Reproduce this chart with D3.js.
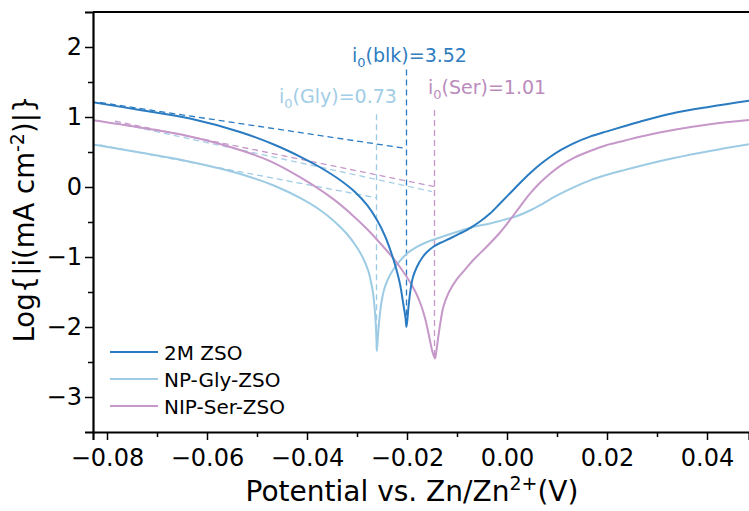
<!DOCTYPE html>
<html>
<head>
<meta charset="utf-8">
<script src="https://cdn.jsdelivr.net/npm/d3@7"></script>
<style>
  body { margin: 0; background: #fff; }
  text { font-family: "DejaVu Sans", sans-serif; }
</style>
</head>
<body>
<div id="chart"></div>
<script>
// Data: potential (V) and log|i|
var blkX = [-0.0828, -0.0734, -0.0634, -0.0534, -0.0464, -0.0414, -0.0374, -0.0334, -0.0304, -0.0280, -0.0260, -0.0244, -0.0232, -0.0222, -0.0214, -0.0208, -0.0203, -0.0201,
            -0.0197, -0.0193, -0.0188, -0.0180, -0.0170, -0.0160, -0.0148, -0.0134, -0.0114, -0.0094, -0.0074, -0.0054, -0.0034, -0.0014, 0.0006, 0.0026, 0.0046, 0.0066, 0.0086, 0.0108, 0.0132, 0.0166, 0.0200, 0.0236, 0.0266, 0.0332, 0.0406, 0.0484];
var blkY = [1.210, 1.100, 0.980, 0.786, 0.600, 0.435, 0.282, 0.100, -0.071, -0.257, -0.471, -0.700, -0.929, -1.157, -1.386, -1.643, -1.871, -2.000,
            -1.714, -1.471, -1.286, -1.139, -1.014, -0.929, -0.857, -0.800, -0.736, -0.664, -0.586, -0.493, -0.379, -0.236, -0.090, 0.057, 0.196, 0.321, 0.429, 0.529, 0.621, 0.720, 0.795, 0.871, 0.933, 1.053, 1.147, 1.233];

var glyX = [-0.0828, -0.0734, -0.0634, -0.0574, -0.0514, -0.0464, -0.0414, -0.0374, -0.0344, -0.0320, -0.0302, -0.0288, -0.0278, -0.0272, -0.0268, -0.02644, -0.02624, -0.0261, -0.02602,
            -0.0258, -0.0255, -0.0251, -0.0246, -0.0238, -0.0228, -0.0216, -0.0201, -0.0182, -0.0160, -0.0134, -0.0104, -0.0068, -0.0034, -0.0004, 0.0020, 0.0046, 0.0072, 0.0102, 0.0132, 0.0166, 0.0200, 0.0236, 0.0266, 0.0332, 0.0406, 0.0484];
var glyY = [0.607, 0.493, 0.361, 0.264, 0.143, 0.014, -0.157, -0.329, -0.500, -0.671, -0.843, -1.014, -1.186, -1.357, -1.514, -1.757, -1.971, -2.186, -2.343,
            -2.114, -1.871, -1.643, -1.471, -1.314, -1.186, -1.071, -0.957, -0.864, -0.786, -0.721, -0.650, -0.571, -0.521, -0.464, -0.414, -0.336, -0.236, -0.114, -0.008, 0.095, 0.175, 0.245, 0.300, 0.410, 0.514, 0.610];

var serX = [-0.0828, -0.0734, -0.0634, -0.0534, -0.0474, -0.0414, -0.0348, -0.0314, -0.0280, -0.0254, -0.0228, -0.0210, -0.0194, -0.0182, -0.0172, -0.0164, -0.0158, -0.0153, -0.0149, -0.0144,
            -0.0141, -0.01374, -0.0133, -0.01274, -0.0116, -0.01006, -0.0084, -0.00674, -0.00406, -0.0014, 0.0006, 0.0026, 0.0046, 0.0066, 0.0086, 0.0108, 0.0132, 0.0166, 0.0200, 0.0236, 0.0266, 0.0332, 0.0406, 0.0484];
var serY = [0.954, 0.850, 0.721, 0.529, 0.370, 0.140, -0.170, -0.371, -0.600, -0.800, -1.014, -1.186, -1.357, -1.514, -1.686, -1.871, -2.057, -2.229, -2.357, -2.450,
            -2.329, -2.139, -1.929, -1.714, -1.500, -1.320, -1.180, -1.043, -0.853, -0.650, -0.471, -0.279, -0.095, 0.060, 0.190, 0.310, 0.410, 0.514, 0.600, 0.664, 0.719, 0.814, 0.896, 0.957];

var seriesNames = ["2M ZSO", "NP-Gly-ZSO", "NIP-Ser-ZSO"];
var seriesColors = ["#2a7bc1", "#9dcbe4", "#c697c9"];

// Tafel fit lines [x0, y0, x1, y1]
var tafelBlk = [-0.0814, 1.207, -0.0201, 0.55];
var tafelGly = [-0.0814, 0.60, -0.0261, -0.155];
var tafelSer = [-0.0784, 0.94, -0.0145, 0.005];
var tafelSer2 = [-0.0784, 0.92, -0.0150, -0.065];

// corrosion potentials and vertical extent [x, yTop, yBottom]
var vBlk = [-0.0201, 1.68, -2.0];
var vGly = [-0.0261, 1.04, -2.35];
var vSer = [-0.0145, 1.10, -2.47];

var xTicks = [-0.08, -0.06, -0.04, -0.02, 0.00, 0.02, 0.04];
var xMinor = [-0.07, -0.05, -0.03, -0.01, 0.01, 0.03];
var yTicks = [-3, -2, -1, 0, 1, 2];
var yMinor = [-2.5, -1.5, -0.5, 0.5, 1.5];

// Variables
var chart_width = 749;
var chart_height = 511;
var pLeft = 93, pTop = 12, pRight = 749, pBottom = 432;

var svg = d3.select("#chart")
  .append("svg")
  .attr("width", chart_width)
  .attr("height", chart_height);

var x_scale = d3.scaleLinear().domain([-0.0828, 0.0484]).range([pLeft, pRight]);
var y_scale = d3.scaleLinear().domain([-3.5, 2.5]).range([pBottom, pTop]);

svg.append("clipPath").attr("id", "clip")
  .append("rect")
  .attr("x", pLeft).attr("y", pTop)
  .attr("width", pRight - pLeft).attr("height", pBottom - pTop);

var plot = svg.append("g").attr("clip-path", "url(#clip)");

// Dashed Tafel lines
function dashLine(seg, color) {
  plot.append("line")
    .attr("x1", x_scale(seg[0])).attr("y1", y_scale(seg[1]))
    .attr("x2", x_scale(seg[2])).attr("y2", y_scale(seg[3]))
    .attr("stroke", color)
    .attr("stroke-width", 1.3)
    .attr("stroke-dasharray", "6,4");
}
function vLine(v, color) {
  plot.append("line")
    .attr("x1", x_scale(v[0])).attr("y1", y_scale(v[1]))
    .attr("x2", x_scale(v[0])).attr("y2", y_scale(v[2]))
    .attr("stroke", color)
    .attr("stroke-width", 1.3)
    .attr("stroke-dasharray", "6,4");
}
dashLine(tafelBlk, seriesColors[0]);
dashLine(tafelSer2, "#a9cfe6");
dashLine(tafelSer, seriesColors[2]);
dashLine(tafelGly, seriesColors[1]);
vLine(vGly, seriesColors[1]);
vLine(vBlk, seriesColors[0]);
vLine(vSer, seriesColors[2]);

// Curves
var line = d3.line()
  .x(function(d){ return x_scale(d[0]); })
  .y(function(d){ return y_scale(d[1]); })
  .curve(d3.curveCatmullRom.alpha(0.5));

var allX = [blkX, glyX, serX];
var allY = [blkY, glyY, serY];
[1, 2, 0].forEach(function(k){
  var pts = allX[k].map(function(v, i){ return [v, allY[k][i]]; });
  plot.append("path")
    .attr("d", line(pts))
    .attr("fill", "none")
    .attr("stroke", seriesColors[k])
    .attr("stroke-width", 2)
    .attr("stroke-linejoin", "round");
});

// Axes
var x_axis = d3.axisBottom(x_scale)
  .tickValues(xTicks)
  .tickFormat(d3.format(".2f"))
  .tickSize(8)
  .tickPadding(9);
var gx = svg.append("g")
  .attr("transform", "translate(0," + pBottom + ")")
  .call(x_axis);
gx.select(".domain").attr("stroke-width", 2.2);
gx.selectAll(".tick line").attr("stroke-width", 1.5);
gx.selectAll("text").style("font-size", "24px").attr("fill", "#000");
svg.append("g")
  .attr("transform", "translate(0," + pBottom + ")")
  .call(d3.axisBottom(x_scale).tickValues(xMinor).tickSize(5).tickFormat(""))
  .call(function(g){ g.select(".domain").remove(); })
  .selectAll("line").attr("stroke-width", 1.5);

var y_axis = d3.axisLeft(y_scale)
  .tickValues(yTicks)
  .tickFormat(d3.format("d"))
  .tickSize(8)
  .tickPadding(3);
var gy = svg.append("g")
  .attr("transform", "translate(" + pLeft + ",0)")
  .call(y_axis);
gy.select(".domain").attr("stroke-width", 2.2);
gy.selectAll(".tick line").attr("stroke-width", 1.5);
gy.selectAll("text").style("font-size", "24px").attr("fill", "#000");
svg.append("g")
  .attr("transform", "translate(" + pLeft + ",0)")
  .call(d3.axisLeft(y_scale).tickValues(yMinor).tickSize(5).tickFormat(""))
  .call(function(g){ g.select(".domain").remove(); })
  .selectAll("line").attr("stroke-width", 1.5);

// top frame
svg.append("line")
  .attr("x1", pLeft).attr("y1", pTop).attr("x2", pRight).attr("y2", pTop)
  .attr("stroke", "#000").attr("stroke-width", 2.2);

// Axis titles
var xt = svg.append("text")
  .attr("x", 412).attr("y", 501)
  .attr("text-anchor", "middle")
  .style("font-size", "28px");
xt.append("tspan").text("Potential vs. Zn/Zn");
xt.append("tspan").attr("dy", -11).style("font-size", "19px").text("2+");
xt.append("tspan").attr("dy", 11).text("(V)");

var yt = svg.append("text")
  .attr("transform", "translate(34,219) rotate(-90)")
  .attr("text-anchor", "middle")
  .style("font-size", "27.5px");
yt.append("tspan").text("Log{|i(mA cm");
yt.append("tspan").attr("dy", -10).style("font-size", "19px").text("-2");
yt.append("tspan").attr("dy", 10).text(")|}");

// Annotations
function label(xp, yp, name, val, color) {
  var t = svg.append("text")
    .attr("x", xp).attr("y", yp)
    .attr("fill", color)
    .style("font-size", "19px");
  t.append("tspan").text("i");
  t.append("tspan").attr("dy", 5).style("font-size", "13px").text("0");
  t.append("tspan").attr("dy", -5).text("(" + name + ")=" + val);
}
label(352, 61.5, "blk", "3.52", "#2f7dbf");
label(279, 102.5, "Gly", "0.73", "#a2cde6");
label(428, 93.5, "Ser", "1.01", "#bb8cbc");

// Legend
var legend = svg.append("g");
seriesNames.forEach(function(n, i){
  var yy = 352 + i * 27;
  legend.append("line")
    .attr("x1", 110).attr("x2", 158)
    .attr("y1", yy).attr("y2", yy)
    .attr("stroke", seriesColors[i])
    .attr("stroke-width", 2.2);
  legend.append("text")
    .attr("x", 164).attr("y", yy + 7.5)
    .style("font-size", "20px")
    .text(n);
});
</script>
</body>
</html>
